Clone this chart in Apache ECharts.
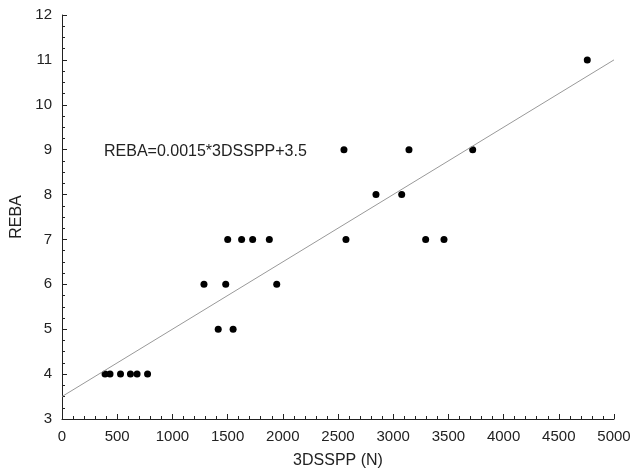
<!DOCTYPE html>
<html>
<head>
<meta charset="utf-8">
<script src="https://cdn.jsdelivr.net/npm/echarts@6/dist/echarts.min.js"></script>
<style>
  html, body { margin: 0; padding: 0; background: #fff; }
  #chart { width: 636px; height: 474px; }
</style>
</head>
<body>
<div id="chart"></div>
<script>
// measured points, 3DSSPP (N) vs REBA score
const dssppValues = [390, 435, 530, 620, 680, 775, 1415, 1550, 1286, 1483, 1945,
  1501, 1627, 1727, 1878, 2572, 3294, 3460, 2844, 3077, 2554, 3143, 3720, 4758];
const rebaValues = [4, 4, 4, 4, 4, 4, 5, 5, 6, 6, 6,
  7, 7, 7, 7, 7, 7, 7, 8, 8, 9, 9, 9, 11];
// fitted line endpoints (REBA = 0.0015*3DSSPP + 3.5)
const fitX = [0, 5000];
const fitY = [3.5, 11];
const fitLabel = 'REBA=0.0015*3DSSPP+3.5';

const points = dssppValues.map((x, i) => [x, rebaValues[i]]);
const fitLine = fitX.map((x, i) => [x, fitY[i]]);

const font = 'Liberation Sans, Arial, sans-serif';
const chart = echarts.init(document.getElementById('chart'));

chart.setOption({
  animation: false,
  grid: { left: 62, right: 22, top: 15, bottom: 54, containLabel: false },
  xAxis: {
    type: 'value',
    min: 0, max: 5000, interval: 500,
    name: '3DSSPP (N)',
    nameLocation: 'middle',
    nameGap: 34,
    nameTextStyle: { fontFamily: font, fontSize: 16, color: '#222' },
    axisLine: { lineStyle: { color: '#222', width: 1 } },
    axisTick: { inside: true, length: 5, lineStyle: { color: '#222' } },
    minorTick: { show: true, splitNumber: 5, length: 3, lineStyle: { color: '#222' } },
    axisLabel: { fontFamily: font, fontSize: 15, color: '#222', margin: 10, formatter: v => String(v) },
    splitLine: { show: false }
  },
  yAxis: {
    type: 'value',
    min: 3, max: 12, interval: 1,
    name: 'REBA',
    nameLocation: 'middle',
    nameGap: 36,
    nameTextStyle: { fontFamily: font, fontSize: 16, color: '#222' },
    axisLine: { show: true, lineStyle: { color: '#222', width: 1 } },
    axisTick: { show: true, inside: true, length: 5, lineStyle: { color: '#222' } },
    minorTick: { show: true, splitNumber: 4, length: 3, lineStyle: { color: '#222' } },
    axisLabel: { fontFamily: font, fontSize: 15, color: '#222', margin: 10 },
    splitLine: { show: false }
  },
  graphic: [{
    type: 'text',
    left: 104,
    top: 144,
    style: { text: fitLabel, fontFamily: font, fontSize: 16, fill: '#222' }
  }],
  series: [
    {
      type: 'line',
      data: fitLine,
      symbol: 'none',
      lineStyle: { color: '#999', width: 1 },
      silent: true
    },
    {
      type: 'scatter',
      data: points,
      symbolSize: 7,
      itemStyle: { color: '#000', opacity: 1 }
    }
  ]
});
</script>
</body>
</html>
